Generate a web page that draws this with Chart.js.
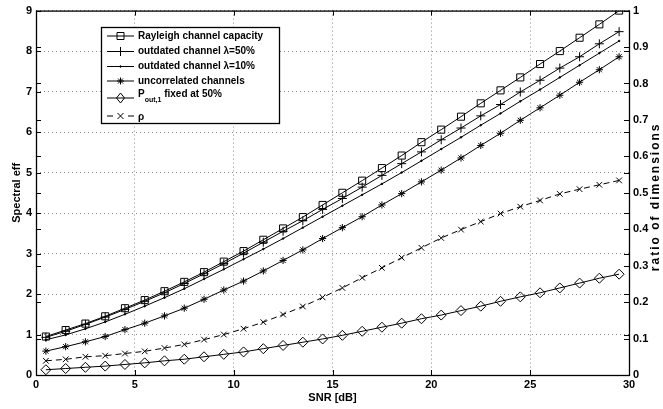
<!DOCTYPE html>
<html>
<head>
<meta charset="utf-8">
<script src="https://cdn.jsdelivr.net/npm/chart.js@4/dist/chart.umd.min.js"></script>
<style>
    html, body { margin: 0; padding: 0; background: #ffffff; }
    #wrap { width: 663px; height: 409px; }
</style>
</head>
<body>
<div id="wrap"><canvas id="spectralChart" width="663" height="409"></canvas></div>
<script>
const snrDb = [0.5, 1.5, 2.5, 3.5, 4.5, 5.5, 6.5, 7.5, 8.5, 9.5,
    10.5, 11.5, 12.5, 13.5, 14.5, 15.5, 16.5, 17.5, 18.5, 19.5,
    20.5, 21.5, 22.5, 23.5, 24.5, 25.5, 26.5, 27.5, 28.5, 29.5];

const rayleighCapacity = [0.95, 1.11, 1.27, 1.45, 1.65, 1.85, 2.07, 2.30, 2.54, 2.80,
    3.06, 3.34, 3.62, 3.90, 4.20, 4.50, 4.80, 5.11, 5.42, 5.75,
    6.06, 6.38, 6.71, 7.03, 7.35, 7.68, 8.00, 8.33, 8.66, 9.00];

const outdated50 = [0.93, 1.08, 1.25, 1.43, 1.62, 1.82, 2.03, 2.26, 2.50, 2.75,
    3.01, 3.28, 3.55, 3.81, 4.09, 4.36, 4.64, 4.93, 5.22, 5.51,
    5.81, 6.10, 6.40, 6.68, 6.99, 7.28, 7.58, 7.86, 8.18, 8.48];

const outdated10 = [0.87, 0.99, 1.14, 1.31, 1.50, 1.70, 1.91, 2.13, 2.37, 2.61,
    2.86, 3.11, 3.37, 3.64, 3.91, 4.18, 4.45, 4.72, 5.00, 5.29,
    5.58, 5.87, 6.17, 6.46, 6.76, 7.05, 7.35, 7.65, 7.95, 8.25];

const uncorrelated = [0.59, 0.70, 0.82, 0.95, 1.12, 1.28, 1.46, 1.65, 1.87, 2.10,
    2.32, 2.57, 2.83, 3.09, 3.37, 3.64, 3.91, 4.20, 4.48, 4.77,
    5.06, 5.36, 5.67, 5.97, 6.29, 6.60, 6.91, 7.23, 7.54, 7.86];

const poutFixed = [0.13, 0.16, 0.19, 0.22, 0.26, 0.30, 0.35, 0.39, 0.45, 0.51,
    0.57, 0.65, 0.73, 0.81, 0.89, 0.98, 1.08, 1.18, 1.28, 1.39,
    1.48, 1.59, 1.70, 1.82, 1.93, 2.03, 2.15, 2.27, 2.39, 2.49];

// ρ is plotted against the right axis (ratio of dimensions)
const rho = [0.039, 0.043, 0.050, 0.053, 0.059, 0.065, 0.074, 0.084, 0.097, 0.111,
    0.127, 0.145, 0.166, 0.188, 0.213, 0.239, 0.267, 0.294, 0.322, 0.349,
    0.376, 0.399, 0.421, 0.443, 0.462, 0.479, 0.497, 0.510, 0.522, 0.534];

const xTicks = [0, 5, 10, 15, 20, 25, 30];
const leftTicks = [0, 1, 2, 3, 4, 5, 6, 7, 8, 9];
const rightTicks = [0, 0.1, 0.2, 0.3, 0.4, 0.5, 0.6, 0.7, 0.8, 0.9, 1];

const FONT = "'Liberation Sans', Arial, Helvetica, sans-serif";

function toPoints(values) {
    return values.map((v, i) => ({ x: snrDb[i], y: v }));
}

function series(label, values, style, radius, extra) {
    return Object.assign({
        label: label,
        data: toPoints(values),
        borderColor: "#000000",
        borderWidth: 1,
        pointStyle: style,
        pointRadius: radius,
        pointBorderColor: "#000000",
        pointBackgroundColor: "rgba(0,0,0,0)",
        pointBorderWidth: 1,
        tension: 0,
        fill: false,
    }, extra || {});
}

/**
 * Маркер у стилі matlab для легенди
 */
function drawMarker(ctx, kind, x, y) {
    ctx.save();
    ctx.strokeStyle = "#000";
    ctx.fillStyle = "#000";
    ctx.lineWidth = 1;
    ctx.beginPath();
    if (kind === "square") {
        ctx.rect(x - 3.5, y - 3.5, 7, 7);
    } else if (kind === "plus") {
        ctx.moveTo(x - 4.5, y); ctx.lineTo(x + 4.5, y);
        ctx.moveTo(x, y - 4.5); ctx.lineTo(x, y + 4.5);
    } else if (kind === "dot") {
        ctx.arc(x, y, 0.8, 0, Math.PI * 2);
        ctx.fill();
    } else if (kind === "star") {
        ctx.moveTo(x - 3.5, y); ctx.lineTo(x + 3.5, y);
        ctx.moveTo(x, y - 3.5); ctx.lineTo(x, y + 3.5);
        ctx.moveTo(x - 2.5, y - 2.5); ctx.lineTo(x + 2.5, y + 2.5);
        ctx.moveTo(x - 2.5, y + 2.5); ctx.lineTo(x + 2.5, y - 2.5);
    } else if (kind === "diamond") {
        ctx.moveTo(x, y - 5); ctx.lineTo(x + 4, y);
        ctx.lineTo(x, y + 5); ctx.lineTo(x - 4, y);
        ctx.closePath();
    } else if (kind === "x") {
        ctx.moveTo(x - 3, y - 3); ctx.lineTo(x + 3, y + 3);
        ctx.moveTo(x - 3, y + 3); ctx.lineTo(x + 3, y - 3);
    }
    ctx.stroke();
    ctx.restore();
}

const frameAndLegend = {
    id: "frameAndLegend",
    afterDraw(chart) {
        const ctx = chart.ctx;
        const area = chart.chartArea;
        const xs = chart.scales.x;
        const ys = chart.scales.y;
        const y2 = chart.scales.y2;

        ctx.save();
        ctx.strokeStyle = "#000";
        ctx.lineWidth = 1;

        // inward ticks
        ctx.beginPath();
        xTicks.forEach((t) => {
            const px = Math.round(xs.getPixelForValue(t)) + 0.5;
            ctx.moveTo(px, area.bottom); ctx.lineTo(px, area.bottom - 5);
            ctx.moveTo(px, area.top); ctx.lineTo(px, area.top + 5);
        });
        leftTicks.forEach((t) => {
            const py = Math.round(ys.getPixelForValue(t)) + 0.5;
            ctx.moveTo(area.left, py); ctx.lineTo(area.left + 5, py);
            ctx.moveTo(area.right, py); ctx.lineTo(area.right - 5, py);
        });
        rightTicks.forEach((t) => {
            const py = Math.round(y2.getPixelForValue(t)) + 0.5;
            ctx.moveTo(area.right, py); ctx.lineTo(area.right - 5, py);
            ctx.moveTo(area.left, py); ctx.lineTo(area.left + 5, py);
        });
        ctx.stroke();

        // box
        ctx.lineWidth = 1.3;
        ctx.strokeRect(area.left + 0.5, area.top + 0.5, area.right - area.left, area.bottom - area.top);

        // right axis title, read bottom-to-top like matlab
        ctx.save();
        ctx.translate(656, (area.top + area.bottom) / 2 + 4);
        ctx.rotate(-Math.PI / 2);
        ctx.font = "bold 12px " + FONT;
        ctx.letterSpacing = "2px";
        ctx.fillStyle = "#000";
        ctx.textAlign = "center";
        ctx.textBaseline = "middle";
        ctx.fillText("ratio of dimensions", 0, 0);
        ctx.restore();

        // legend
        const bx = 101, by = 27, bw = 178, bh = 96;
        ctx.fillStyle = "#fff";
        ctx.fillRect(bx, by, bw, bh);
        ctx.lineWidth = 1.3;
        ctx.strokeRect(bx + 0.5, by + 0.5, bw, bh);

        const rows = [
            { y: 36, kind: "square", text: "Rayleigh channel capacity" },
            { y: 51.5, kind: "plus", text: "outdated channel \u03bb=50%" },
            { y: 66.5, kind: "dot", text: "outdated channel \u03bb=10%" },
            { y: 81, kind: "star", text: "uncorrelated channels" },
            { y: 98, kind: "diamond", text: null },
            { y: 116, kind: "x", text: "\u03c1", dashed: true },
        ];
        ctx.lineWidth = 1;
        ctx.fillStyle = "#000";
        ctx.textBaseline = "middle";
        ctx.textAlign = "left";
        ctx.font = "bold 10px " + FONT;
        rows.forEach((r) => {
            ctx.beginPath();
            if (r.dashed) {
                ctx.moveTo(107, r.y); ctx.lineTo(113, r.y);
                ctx.moveTo(128, r.y); ctx.lineTo(134, r.y);
            } else {
                ctx.moveTo(107, r.y); ctx.lineTo(134, r.y);
            }
            ctx.stroke();
            drawMarker(ctx, r.kind, 120.5, r.y);
            if (r.text) {
                ctx.fillText(r.text, 138, r.dashed ? r.y + 1 : r.y);
            }
        });
        // P_out,1 fixed at 50%
        ctx.font = "bold 10px " + FONT;
        ctx.fillText("P", 138, 94);
        const pw = ctx.measureText("P").width;
        ctx.font = "bold 7px " + FONT;
        ctx.fillText("out,1", 138 + pw, 100);
        const sw = ctx.measureText("out,1").width;
        ctx.font = "bold 10px " + FONT;
        ctx.fillText(" fixed at 50%", 138 + pw + sw, 94);

        ctx.restore();
    },
};

const datasets = [
    series("Rayleigh channel capacity", rayleighCapacity, "rect", 5),
    series("outdated channel \u03bb=50%", outdated50, "cross", 4.5),
    series("outdated channel \u03bb=10%", outdated10, "circle", 0.8, { pointBackgroundColor: "#000" }),
    series("uncorrelated channels", uncorrelated, "star", 3.6),
    series("P_out,1 fixed at 50%", poutFixed, "rectRot", 5),
    series("\u03c1", rho, "crossRot", 4, { yAxisID: "y2", borderDash: [6, 4] }),
];

const gridStyle = {
    color: "#8a8a8a",
    lineWidth: 1,
    drawTicks: false,
};

new Chart(document.getElementById("spectralChart").getContext("2d"), {
    type: "line",
    data: { datasets: datasets },
    options: {
        responsive: false,
        animation: false,
        layout: { padding: { top: 7, right: 0, left: 0, bottom: 0 } },
        plugins: {
            legend: { display: false },
            tooltip: { enabled: false },
        },
        scales: {
            x: {
                type: "linear",
                min: 0,
                max: 30,
                afterFit: (scale) => { scale.height = 34; },
                afterBuildTicks: (scale) => { scale.ticks = xTicks.map((v) => ({ value: v })); },
                ticks: { color: "#000", padding: 3, font: { family: FONT, size: 11, weight: "bold" } },
                grid: Object.assign({}, gridStyle),
                border: { display: false, dash: [1, 3] },
                title: {
                    display: true,
                    text: "SNR [dB]",
                    color: "#000",
                    padding: { top: 0, bottom: 4 },
                    font: { family: FONT, size: 11, weight: "bold" },
                },
            },
            y: {
                position: "left",
                min: 0,
                max: 9,
                afterFit: (scale) => { scale.width = 36; },
                afterBuildTicks: (scale) => { scale.ticks = leftTicks.map((v) => ({ value: v })); },
                ticks: { color: "#000", padding: 4, font: { family: FONT, size: 11, weight: "bold" } },
                grid: Object.assign({}, gridStyle),
                border: { display: false, dash: [1, 3] },
                title: {
                    display: true,
                    text: "Spectral eff",
                    color: "#000",
                    padding: { top: 10, bottom: 0 },
                    font: { family: FONT, size: 11, weight: "bold" },
                },
            },
            y2: {
                position: "right",
                min: 0,
                max: 1,
                afterFit: (scale) => { scale.width = 34; },
                afterBuildTicks: (scale) => { scale.ticks = rightTicks.map((v) => ({ value: v })); },
                ticks: {
                    color: "#000",
                    padding: 4,
                    font: { family: FONT, size: 11, weight: "bold" },
                    callback: (v) => String(Math.round(v * 10) / 10),
                },
                grid: { drawOnChartArea: false, drawTicks: false },
                border: { display: false },
            },
        },
    },
    plugins: [frameAndLegend],
});
</script>
</body>
</html>
